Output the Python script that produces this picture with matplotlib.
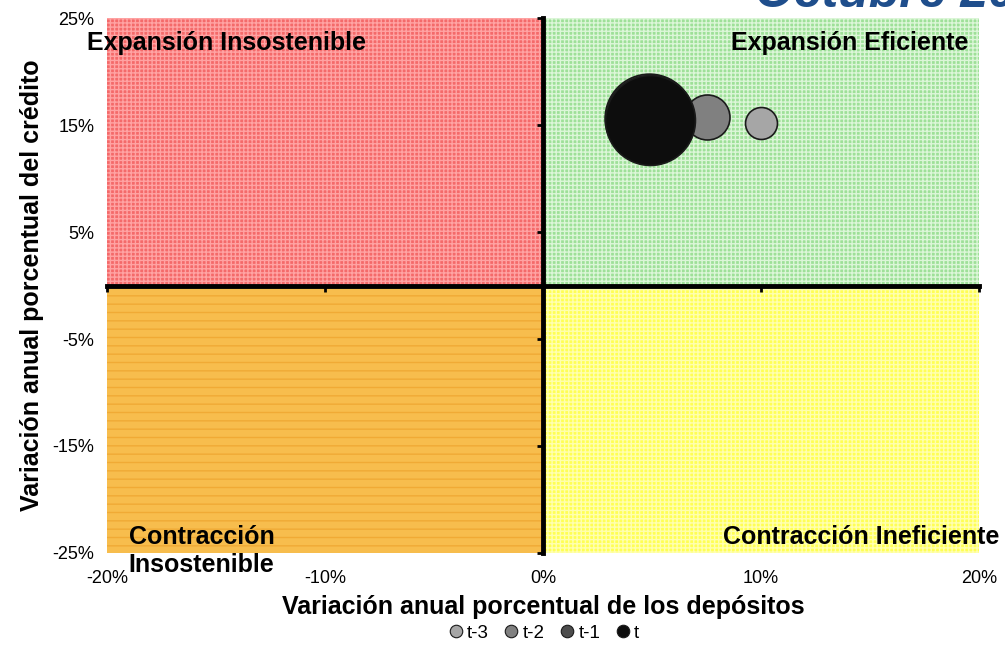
import matplotlib
matplotlib.use("Agg")
import matplotlib.pyplot as plt
from matplotlib.lines import Line2D
from matplotlib.ticker import FuncFormatter

plt.rcParams['font.family'] = ['Liberation Sans', 'DejaVu Sans']
plt.rcParams['hatch.linewidth'] = 1.0

# datos: variación anual de depósitos (x) y crédito (y), en %
periodos = ['t-3', 't-2', 't-1', 't']
var_depositos = [10.0, 7.5, 4.85, 4.9]
var_credito = [15.2, 15.8, 15.7, 15.5]
tamano_burbuja = [1.0, 1.98, 7.7, 7.9]
colores = ['#a6a6a6', '#808080', '#4d4d4d', '#0d0d0d']

xticks = [-20, -10, 0, 10, 20]
yticks = [-25, -15, -5, 5, 15, 25]
xlim = (-20, 20)
ylim = (-25, 25)

fig = plt.figure(figsize=(10.05, 6.46), dpi=100)
ax = fig.add_axes([0.1065, 0.144, 0.8677, 0.828])
ax.set_xlim(xlim)
ax.set_ylim(ylim)

# cuadrantes
ax.fill_between([xlim[0], 0], 0, ylim[1], facecolor='#f46a6a', edgecolor='#ffa3a3',
                hatch='++++', linewidth=0, zorder=0)
ax.fill_between([0, xlim[1]], 0, ylim[1], facecolor='#9ee098', edgecolor='#dcf6d8',
                hatch='++++', linewidth=0, zorder=0)
ax.fill_between([xlim[0], 0], ylim[0], 0, facecolor='#f7bd4d', edgecolor='#f0aa35',
                hatch='--', linewidth=0, zorder=0)
ax.fill_between([0, xlim[1]], ylim[0], 0, facecolor='#ffff55', edgecolor='#ffffb0',
                hatch='++++', linewidth=0, zorder=0)

# burbujas
for i in range(len(periodos)):
    ax.scatter(var_depositos[i], var_credito[i], s=tamano_burbuja[i] * 530,
               color=colores[i], edgecolor='#1a1a1a', linewidth=1.2, zorder=5)

# ejes principales sin líneas
for s in ax.spines.values():
    s.set_visible(False)
pct = FuncFormatter(lambda v, p: f'{v:.0f}%')
ax.set_xticks(xticks)
ax.set_yticks(yticks)
ax.xaxis.set_major_formatter(pct)
ax.yaxis.set_major_formatter(pct)
ax.tick_params(length=0, labelsize=13)
ax.tick_params(axis='y', pad=9)
ax.tick_params(axis='x', pad=12)

# ejes que cruzan en cero
sec_y = ax.secondary_yaxis(0.5)
for sp in sec_y.spines.values():
    sp.set_linewidth(3.5)
sec_y.set_yticks(yticks)
sec_y.set_yticklabels([])
sec_y.tick_params(length=4, width=2, direction='in')
sec_x = ax.secondary_xaxis(0.5)
for sp in sec_x.spines.values():
    sp.set_linewidth(3.5)
sec_x.set_xticks(xticks)
sec_x.set_xticklabels([])
sec_x.tick_params(length=4, width=2, direction='in')

ax.set_xlabel('Variación anual porcentual de los depósitos', fontsize=18,
              fontweight='bold', labelpad=6)
ax.set_ylabel('Variación anual porcentual del crédito', fontsize=18,
              fontweight='bold', labelpad=6)

# etiquetas de cuadrantes
kw = dict(fontsize=18, fontweight='bold', clip_on=False, zorder=6)
ax.text(-20.9, 22.7, 'Expansión Insostenible', ha='left', va='center', **kw)
ax.text(19.5, 22.7, 'Expansión Eficiente', ha='right', va='center', **kw)
ax.text(-19.0, -24.8, 'Contracción\nInsostenible', ha='left', va='center',
        linespacing=1.22, **kw)
ax.text(20.95, -23.5, 'Contracción Ineficiente', ha='right', va='center', **kw)

# título (cortado en el borde)
fig.text(0.751, 0.989, 'Octubre 2013', fontsize=36, fontweight='bold',
         fontstyle='italic', color='#1f4e8c', ha='left', va='baseline')

handles = [Line2D([], [], marker='o', linestyle='none', markersize=9,
                  markerfacecolor=c, markeredgecolor='#1a1a1a', markeredgewidth=0.8)
           for c in colores]
fig.legend(handles, periodos, loc='center', bbox_to_anchor=(0.54, 0.02), ncol=4,
           frameon=False, fontsize=13.5, handletextpad=0.1, columnspacing=0.7,
           handlelength=1.0)

fig.savefig('out.png', dpi=100)
